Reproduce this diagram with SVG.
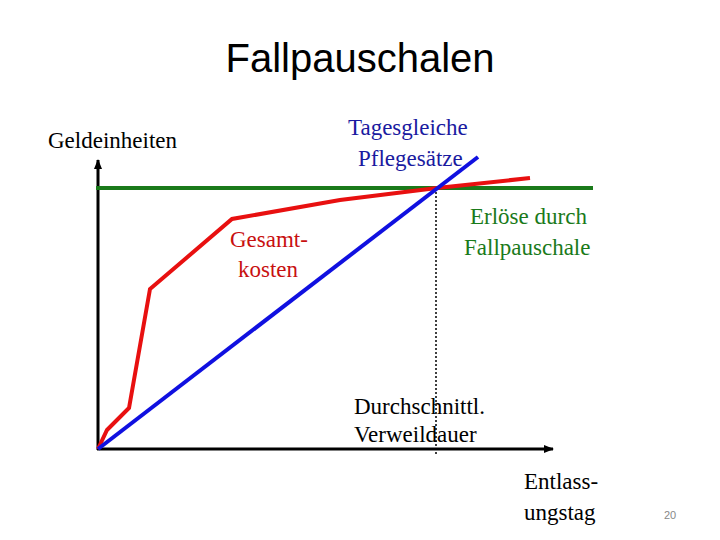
<svg xmlns="http://www.w3.org/2000/svg" width="720" height="540" viewBox="0 0 720 540">
<style>
.s{font-family:"Liberation Serif",serif;font-size:23px}
.ax{stroke:#000;stroke-width:3;fill:none}
</style>
<defs><marker id="ar" markerWidth="10" markerHeight="8" refX="9" refY="4" orient="auto" markerUnits="userSpaceOnUse"><path d="M0,0L10,4L0,8z" fill="#000"/></marker></defs>
<rect width="720" height="540" fill="#fff"/>
<text x="360" y="72" text-anchor="middle" font-family="Liberation Sans,sans-serif" font-size="40">Fallpauschalen</text>
<g id="connectors">
<line class="ax" x1="98" y1="450" x2="98" y2="160" marker-end="url(#ar)"/>
<line class="ax" x1="97" y1="449" x2="553" y2="449" marker-end="url(#ar)"/>
<line x1="436" y1="188" x2="436" y2="456" stroke="#000" stroke-width="1.5" stroke-dasharray="2,2"/>
<line x1="96" y1="188" x2="593" y2="188" stroke="#1a7a1a" stroke-width="4"/>
<polyline points="98,449 107,430 129,408 150,289 232,219 340,200 437,188 530,178" fill="none" stroke="#e81010" stroke-width="4"/>
<line x1="98" y1="449" x2="478" y2="157" stroke="#1010e0" stroke-width="4"/>
</g>
<g id="labels" class="s">
<text x="48" y="148">Geldeinheiten</text>
<g id="tages" fill="#1a1aa0"><text x="348" y="135">Tagesgleiche</text><text x="358" y="166">Pflegesätze</text></g>
<g id="erloese" fill="#1a7a1a"><text x="470" y="224">Erlöse durch</text><text x="464" y="255">Fallpauschale</text></g>
<g id="gesamt" fill="#c81010"><text x="230" y="247">Gesamt-</text><text x="238" y="277">kosten</text></g>
<g id="dauer"><text x="354" y="414">Durchschnittl.</text><text x="354" y="442">Verweildauer</text></g>
<g id="entlass"><text x="524" y="489">Entlass-</text><text x="524" y="520">ungstag</text></g>
</g>
<text x="670" y="519" text-anchor="middle" font-family="Liberation Sans,sans-serif" font-size="11" fill="#888">20</text>
</svg>
